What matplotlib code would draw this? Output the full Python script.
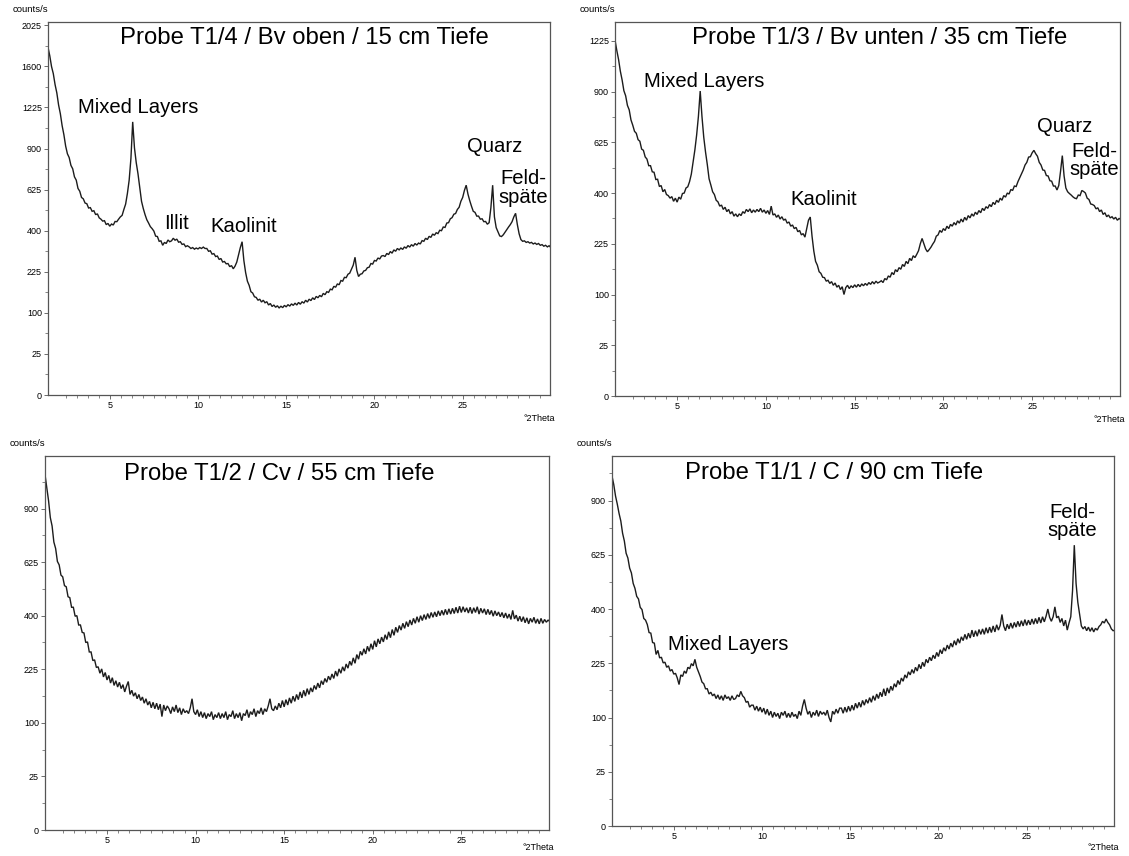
import numpy as np
import matplotlib
matplotlib.use("Agg")
import matplotlib.pyplot as plt
from matplotlib.ticker import FixedLocator, FuncFormatter

plt.rcParams['font.family'] = ['Liberation Sans', 'DejaVu Sans']

# diffraction angle grid (°2Theta), 0.1° steps
two_theta = np.arange(15, 301) / 10.0

# counts/s per sample
t1_4 = [
    1790, 1705, 1598, 1530, 1428, 1352, 1246, 1172, 1075, 1004,
    918, 862, 835, 781, 758, 705, 684, 632, 615, 578,
    570, 546, 542, 518, 520, 500, 503, 482, 486, 465,
    458, 448, 450, 430, 436, 422, 433, 428, 446, 445,
    458, 470, 478, 510, 540, 602, 684, 830, 1105, 905,
    800, 725, 640, 556, 515, 482, 455, 438, 420, 410,
    398, 374, 372, 350, 352, 332, 345, 340, 356, 348,
    352, 364, 355, 360, 346, 348, 336, 338, 326, 330,
    325, 318, 322, 315, 320, 316, 322, 318, 324, 318,
    318, 306, 308, 294, 296, 284, 286, 272, 276, 262,
    264, 255, 256, 244, 248, 236, 246, 262, 292, 322,
    348, 268, 222, 192, 178, 158, 154, 143, 141, 133,
    136, 128, 133, 126, 129, 120, 124, 116, 120, 114,
    118, 112, 117, 113, 119, 115, 121, 117, 123, 119,
    125, 120, 127, 122, 129, 125, 133, 128, 136, 132,
    140, 135, 144, 140, 147, 143, 153, 149, 158, 156,
    166, 164, 175, 172, 183, 180, 194, 192, 205, 204,
    216, 220, 235, 250, 281, 230, 208, 216, 218, 228,
    230, 240, 242, 256, 254, 268, 266, 278, 274, 286,
    288, 284, 297, 292, 305, 298, 312, 306, 318, 312,
    320, 314, 325, 319, 331, 324, 335, 328, 340, 333,
    342, 338, 353, 350, 364, 358, 373, 368, 384, 378,
    390, 386, 402, 400, 418, 416, 438, 440, 460, 466,
    484, 488, 510, 522, 556, 578, 620, 652, 598, 560,
    528, 500, 494, 474, 474, 458, 460, 445, 446, 432,
    440, 520, 652, 470, 415, 395, 375, 372, 380, 392,
    405, 418, 430, 445, 470, 489, 430, 385, 358, 350,
    352, 345, 348, 342, 345, 338, 342, 336, 340, 332,
    335, 328, 332, 325, 330, 322,
]

t1_3 = [
    1230, 1160, 1100, 1025, 970, 905, 875, 820, 795, 740,
    712, 680, 670, 638, 630, 592, 586, 555, 545, 515,
    515, 488, 486, 455, 456, 426, 430, 405, 414, 394,
    390, 380, 386, 368, 380, 365, 384, 376, 398, 400,
    420, 425, 446, 478, 530, 588, 662, 760, 903, 758,
    650, 578, 520, 458, 432, 405, 394, 372, 366, 350,
    354, 338, 346, 330, 338, 322, 330, 314, 322, 312,
    322, 316, 330, 324, 338, 330, 340, 326, 336, 328,
    338, 330, 342, 328, 336, 324, 334, 320, 350, 318,
    322, 310, 318, 304, 312, 300, 304, 290, 294, 280,
    284, 272, 276, 262, 266, 252, 256, 245, 272, 300,
    311, 248, 204, 176, 166, 150, 146, 137, 136, 128,
    130, 123, 127, 119, 124, 115, 119, 110, 116, 100,
    114, 119, 112, 118, 114, 120, 115, 121, 116, 122,
    118, 123, 119, 125, 121, 127, 122, 128, 124, 126,
    129, 125, 134, 131, 140, 137, 148, 143, 155, 150,
    160, 156, 168, 163, 176, 170, 184, 178, 191, 186,
    195, 205, 225, 241, 225, 210, 202, 208, 215, 224,
    232, 248, 252, 266, 260, 272, 266, 280, 272, 286,
    280, 292, 284, 298, 290, 304, 294, 310, 300, 316,
    308, 322, 314, 328, 320, 334, 326, 342, 334, 348,
    342, 356, 348, 364, 356, 372, 364, 380, 372, 390,
    384, 400, 396, 414, 410, 428, 426, 446, 462, 478,
    496, 518, 530, 554, 556, 574, 586, 570, 558, 530,
    518, 496, 494, 472, 470, 450, 448, 428, 428, 412,
    430, 490, 561, 470, 420, 405, 398, 392, 385, 380,
    378, 392, 390, 410, 406, 400, 380, 375, 358, 356,
    352, 340, 344, 330, 336, 320, 326, 312, 318, 308,
    312, 304, 310, 300, 306, 302,
]

t1_2 = [
    1100, 1020, 945, 850, 805, 722, 690, 628, 612, 566,
    558, 520, 515, 474, 470, 432, 432, 398, 400, 366,
    366, 340, 338, 306, 308, 276, 276, 250, 252, 230,
    232, 214, 226, 204, 216, 196, 208, 188, 202, 182,
    194, 178, 190, 174, 184, 166, 180, 192, 160, 170,
    156, 164, 150, 160, 146, 154, 140, 150, 136, 144,
    130, 142, 128, 140, 126, 138, 112, 136, 124, 134,
    128, 118, 132, 122, 136, 120, 130, 116, 128, 120,
    124, 118, 130, 150, 122, 116, 126, 112, 122, 110,
    120, 108, 118, 112, 122, 106, 116, 110, 120, 108,
    118, 110, 122, 106, 116, 112, 124, 108, 118, 110,
    120, 104, 118, 114, 126, 110, 122, 116, 128, 112,
    124, 118, 130, 116, 128, 122, 134, 150, 128, 124,
    134, 126, 140, 130, 146, 132, 148, 136, 152, 140,
    156, 144, 160, 148, 166, 152, 170, 156, 174, 160,
    176, 166, 182, 172, 188, 176, 194, 184, 200, 190,
    206, 196, 212, 200, 220, 206, 226, 214, 232, 220,
    240, 228, 248, 236, 258, 242, 268, 254, 278, 266,
    286, 270, 294, 278, 302, 284, 312, 292, 318, 302,
    324, 308, 332, 316, 342, 322, 350, 330, 358, 340,
    364, 348, 372, 354, 378, 360, 384, 366, 390, 372,
    396, 376, 400, 382, 404, 386, 408, 390, 412, 394,
    414, 396, 418, 400, 420, 402, 424, 404, 426, 406,
    428, 408, 432, 410, 436, 412, 434, 414, 430, 410,
    432, 408, 430, 412, 434, 406, 428, 410, 426, 404,
    424, 404, 420, 398, 418, 400, 414, 396, 412, 392,
    410, 390, 406, 386, 420, 388, 402, 380, 398, 378,
    396, 374, 392, 370, 390, 376, 394, 372, 388, 370,
    390, 372, 386, 376, 384, 378,
]

t1_1 = [
    1040, 990, 925, 880, 830, 790, 728, 690, 632, 610,
    565, 544, 500, 480, 448, 438, 406, 398, 366, 360,
    345, 318, 316, 286, 284, 250, 262, 240, 242, 226,
    228, 214, 218, 204, 208, 196, 198, 186, 170, 194,
    190, 204, 198, 214, 210, 224, 218, 236, 214, 202,
    190, 176, 172, 160, 160, 148, 152, 144, 148, 138,
    146, 136, 144, 134, 146, 138, 142, 134, 144, 136,
    138, 146, 142, 154, 144, 140, 130, 132, 120, 124,
    124, 114, 122, 112, 120, 110, 118, 106, 116, 104,
    112, 100, 110, 102, 108, 98, 110, 104, 112, 100,
    108, 100, 110, 102, 106, 98, 112, 104, 122, 136,
    118, 106, 112, 100, 110, 104, 114, 102, 112, 106,
    110, 104, 114, 100, 92, 112, 106, 116, 108, 118,
    118, 108, 120, 110, 122, 112, 124, 114, 128, 118,
    130, 120, 134, 124, 136, 128, 140, 130, 144, 134,
    148, 138, 152, 142, 160, 144, 162, 150, 166, 156,
    172, 164, 180, 170, 186, 178, 194, 186, 202, 194,
    208, 198, 214, 204, 222, 210, 228, 216, 236, 226,
    242, 232, 248, 238, 256, 244, 264, 252, 270, 260,
    278, 266, 284, 272, 292, 278, 298, 284, 304, 292,
    312, 296, 316, 300, 326, 304, 324, 306, 328, 312,
    330, 312, 334, 316, 336, 318, 340, 320, 344, 326,
    342, 380, 340, 324, 346, 330, 350, 332, 352, 336,
    356, 338, 358, 340, 362, 342, 360, 344, 364, 346,
    366, 348, 370, 350, 372, 354, 374, 400, 370, 356,
    372, 408, 368, 374, 352, 366, 340, 360, 326, 350,
    372, 470, 670, 500, 425, 380, 340, 330, 338, 324,
    336, 322, 334, 320, 332, 326, 338, 344, 356, 350,
    364, 352, 344, 330, 324, 326,
]

titles = [
    "Probe T1/4 / Bv oben / 15 cm Tiefe",
    "Probe T1/3 / Bv unten / 35 cm Tiefe",
    "Probe T1/2 / Cv / 55 cm Tiefe",
    "Probe T1/1 / C / 90 cm Tiefe",
]

y_tick_values = [0, 25, 100, 225, 400, 625, 900, 1225, 1600, 2025]
x_tick_values = [5, 10, 15, 20, 25]

# peak labels: (text, °2Theta, counts/s at text baseline)
labels_t1_4 = [("Mixed Layers", 6.6, 1174), ("Illit", 8.8, 406),
               ("Kaolinit", 12.6, 395), ("Quarz", 26.8, 876),
               ("Feld-", 28.43, 659), ("späte", 28.46, 544)]
labels_t1_3 = [("Mixed Layers", 6.5, 924), ("Kaolinit", 13.24, 353),
               ("Quarz", 26.84, 675), ("Feld-", 28.48, 556),
               ("späte", 28.51, 475)]
labels_t1_2 = []
labels_t1_1 = [("Mixed Layers", 8.1, 263), ("Feld-", 27.59, 805),
               ("späte", 27.58, 712)]

W, H = 1129, 856
fig = plt.figure(figsize=(W / 100, H / 100), dpi=100)


def px_rect(left, top, right, bottom):
    return [left / W, 1 - bottom / H, (right - left) / W, (bottom - top) / H]


# rect, counts, title, title position, y max, labels, x-axis label offset
panels = [
    (px_rect(48, 22, 550, 395), t1_4, titles[0], (0.51, 0.958), 2061, labels_t1_4, -0.064),
    (px_rect(615, 22, 1120, 396), t1_3, titles[1], (0.525, 0.956), 1358, labels_t1_3, -0.064),
    (px_rect(45, 456, 549, 830), t1_2, titles[2], (0.465, 0.952), 1218, labels_t1_2, -0.047),
    (px_rect(612, 456, 1114, 826), t1_1, titles[3], (0.442, 0.953), 1163, labels_t1_1, -0.058),
]

spine_col = "#555555"

for rect, counts, title, tpos, ymax, labels, xlab_off in panels:
    ax = fig.add_axes(rect)
    ax.set_yscale('function',
                  functions=(lambda v: np.sqrt(np.clip(v, 0, None)), np.square))
    ax.plot(two_theta, counts, color="#1c1c1c", lw=1.0, solid_joinstyle='miter')
    ax.set_xlim(1.5, 29.95)
    ax.set_ylim(0, ymax)

    ax.xaxis.set_major_locator(FixedLocator(x_tick_values))
    ax.xaxis.set_minor_locator(FixedLocator(np.arange(2.5, 30, 0.625)))
    ax.yaxis.set_major_locator(FixedLocator([v for v in y_tick_values if v <= ymax]))
    ax.yaxis.set_minor_locator(FixedLocator([(k + 2.5) ** 2 for k in range(0, 46, 5)]))
    ax.yaxis.set_major_formatter(FuncFormatter(lambda v, p: f"{int(round(v))}"))

    ax.tick_params(axis='both', which='major', direction='out', length=3.2,
                   width=0.6, color=spine_col, labelsize=6.5, pad=1.2)
    ax.tick_params(axis='both', which='minor', direction='out', length=2,
                   width=0.5, color=spine_col)
    for sp in ax.spines.values():
        sp.set_color(spine_col)
        sp.set_linewidth(0.9)

    ax.text(0.0, 1.022, "counts/s", transform=ax.transAxes, ha='right',
            va='bottom', fontsize=6.8)
    ax.text(0.978, xlab_off, "°2Theta", transform=ax.transAxes, ha='center',
            va='center', fontsize=6.5)
    ax.text(tpos[0], tpos[1], title, transform=ax.transAxes, ha='center',
            va='center', fontsize=17.2)
    for text, tx, ty in labels:
        ax.text(tx, ty, text, ha='center', va='baseline', fontsize=14.6)

fig.savefig("out.png", dpi=100)
